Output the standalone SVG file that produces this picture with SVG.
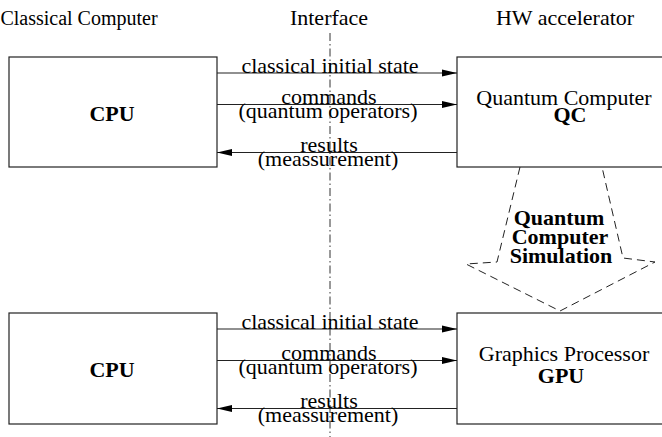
<svg xmlns="http://www.w3.org/2000/svg" width="662" height="437" viewBox="0 0 662 437">
<defs>
<style>
text{font-family:'Liberation Serif','Times New Roman',Times,serif;fill:#000}
.h{font-size:22px;text-anchor:middle}
.l{font-size:22px;text-anchor:middle}
.b{font-size:22px;font-weight:bold;text-anchor:middle}
.box{fill:#fff;stroke:#222;stroke-width:1.2}
.conn line{stroke:#222;stroke-width:1.2}
</style>
<marker id="ah" markerWidth="16" markerHeight="8" refX="15" refY="4" orient="auto" markerUnits="userSpaceOnUse">
<path d="M0,0.5 L15,4 L0,7.5 Z" fill="#000"/>
</marker>
</defs>
<rect width="662" height="437" fill="#fff"/>
<g id="headers">
<text class="h" x="79" y="25" font-size="20" style="font-size:20px">Classical Computer</text>
<text class="h" x="329" y="25">Interface</text>
<text class="h" x="565" y="25">HW accelerator</text>
</g>
<line id="interface-line" x1="330" y1="33" x2="330" y2="437" stroke="#333" stroke-width="1" stroke-dasharray="8,3,1.5,3"/>
<g id="cpu1"><rect class="box" x="9" y="57" width="208" height="110"/><text class="b" x="112" y="121">CPU</text></g>
<g id="qc"><rect class="box" x="457" y="57" width="215" height="110"/><text class="l" x="564" y="105">Quantum Computer</text><text class="b" x="570" y="122">QC</text></g>
<g id="cpu2"><rect class="box" x="9" y="313" width="208" height="111"/><text class="b" x="112" y="377">CPU</text></g>
<g id="gpu"><rect class="box" x="457" y="313" width="215" height="111"/><text class="l" x="564" y="361">Graphics Processor</text><text class="b" x="561" y="383">GPU</text></g>
<g id="simulation">
<path d="M520,167 L497,262 L466,264 L560,311 L655,262 L623,258 L602,167" fill="none" stroke="#222" stroke-width="1" stroke-dasharray="8,5"/>
<text class="b" x="559" y="225">Quantum</text>
<text class="b" x="560" y="244">Computer</text>
<text class="b" x="561" y="263">Simulation</text>
</g>
<g id="connectors" class="conn">
<line x1="217" y1="73" x2="457" y2="73" marker-end="url(#ah)"/>
<line x1="217" y1="104.5" x2="457" y2="104.5" marker-end="url(#ah)"/>
<line x1="457" y1="152.5" x2="217" y2="152.5" marker-end="url(#ah)"/>
<line x1="217" y1="329" x2="457" y2="329" marker-end="url(#ah)"/>
<line x1="217" y1="360.5" x2="457" y2="360.5" marker-end="url(#ah)"/>
<line x1="457" y1="408.5" x2="217" y2="408.5" marker-end="url(#ah)"/>
</g>
<g id="labels">
<text class="l" x="330" y="73">classical initial state</text>
<text class="l" x="329" y="104">commands</text>
<text class="l" x="328" y="118">(quantum operators)</text>
<text class="l" x="329" y="152">results</text>
<text class="l" x="328" y="166">(meassurement)</text>
<text class="l" x="330" y="329">classical initial state</text>
<text class="l" x="329" y="360">commands</text>
<text class="l" x="328" y="374">(quantum operators)</text>
<text class="l" x="329" y="408">results</text>
<text class="l" x="328" y="422">(meassurement)</text>
</g>
</svg>
